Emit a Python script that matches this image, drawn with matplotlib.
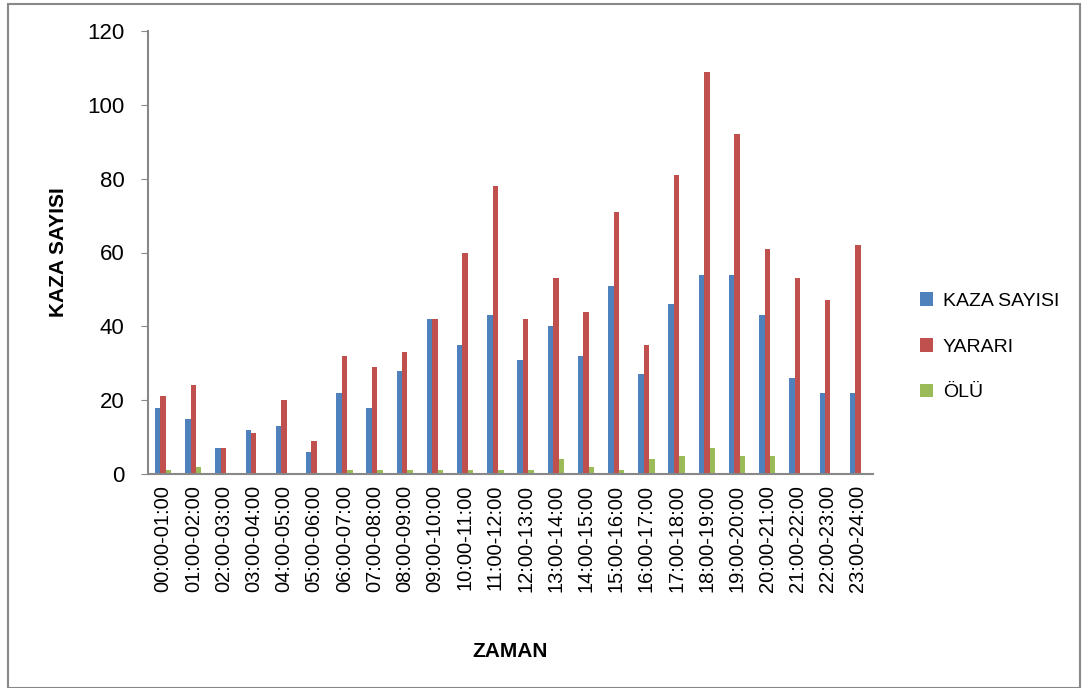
import numpy as np
import matplotlib.pyplot as plt
from matplotlib.patches import Rectangle

plt.rcParams['font.family'] = ['Liberation Sans', 'DejaVu Sans']

hours = ['00:00-01:00', '01:00-02:00', '02:00-03:00', '03:00-04:00', '04:00-05:00',
         '05:00-06:00', '06:00-07:00', '07:00-08:00', '08:00-09:00', '09:00-10:00',
         '10:00-11:00', '11:00-12:00', '12:00-13:00', '13:00-14:00', '14:00-15:00',
         '15:00-16:00', '16:00-17:00', '17:00-18:00', '18:00-19:00', '19:00-20:00',
         '20:00-21:00', '21:00-22:00', '22:00-23:00', '23:00-24:00']
kaza = [18, 15, 7, 12, 13, 6, 22, 18, 28, 42, 35, 43, 31, 40, 32, 51, 27, 46, 54, 54, 43, 26, 22, 22]
yarali = [21, 24, 7, 11, 20, 9, 32, 29, 33, 42, 60, 78, 42, 53, 44, 71, 35, 81, 109, 92, 61, 53, 47, 62]
olu = [1, 2, 0, 0, 0, 0, 1, 1, 1, 1, 1, 1, 1, 4, 2, 1, 4, 5, 7, 5, 5, 0, 0, 0]

fig = plt.figure(figsize=(10.88, 6.88), dpi=100)
ax = fig.add_axes([148 / 1088, 1 - 474 / 688, (873 - 148) / 1088, (474 - 31) / 688])

x = np.arange(len(hours))
w = 0.18
ax.bar(x - w, kaza, w, color='#4F81BD', label='KAZA SAYISI')
ax.bar(x, yarali, w, color='#C0504D', label='YARARI')
ax.bar(x + w, olu, w, color='#9BBB59', label='ÖLÜ')

ax.set_xlim(-0.5, len(hours) - 0.5)
ax.set_ylim(0, 120)
ax.set_yticks(range(0, 121, 20))
ax.set_xticks(x)
ax.set_xticklabels(hours, rotation=90, fontsize=14.5)
ax.tick_params(axis='y', labelsize=16, length=5, color='#888888', pad=12)
ax.tick_params(axis='x', length=0, pad=8)
for s in ['top', 'right']:
    ax.spines[s].set_visible(False)
for s in ['left', 'bottom']:
    ax.spines[s].set_color('#888888')
    ax.spines[s].set_linewidth(1.5)

ax.set_ylabel('KAZA SAYISI', fontsize=15, fontweight='bold', labelpad=14)
ax.set_xlabel('ZAMAN', fontsize=15, fontweight='bold', labelpad=36)

ax.legend(loc='center left', bbox_to_anchor=(1.04, 0.287), frameon=False,
          fontsize=14, handlelength=0.7, handleheight=0.7, labelspacing=1.45, handletextpad=0.5)

fig.patches.append(Rectangle((8 / 1088, 0), 1072 / 1088, 1 - 4 / 688, transform=fig.transFigure,
                             fill=False, edgecolor='#888888', linewidth=1.5))

fig.savefig('out.png', dpi=100)
